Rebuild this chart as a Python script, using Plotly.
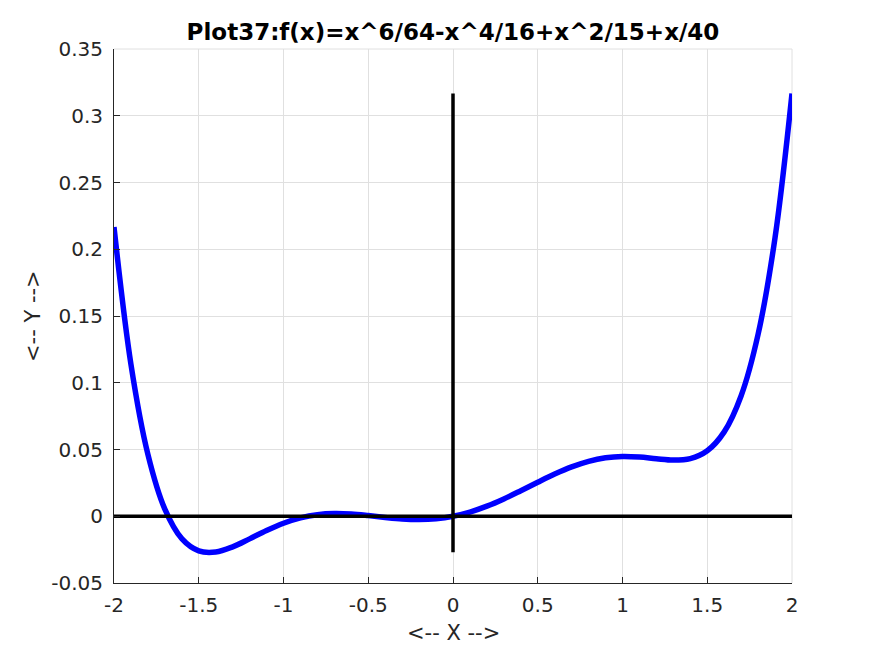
import plotly.graph_objects as go

x_vals = [-2.0, -1.9, -1.8, -1.7, -1.6, -1.5, -1.4, -1.3, -1.2, -1.1, -1.0,
          -0.9, -0.8, -0.7, -0.6, -0.5, -0.4, -0.3, -0.2, -0.1, 0.0,
          0.1, 0.2, 0.3, 0.4, 0.5, 0.6, 0.7, 0.8, 0.9, 1.0,
          1.1, 1.2, 1.3, 1.4, 1.5, 1.6, 1.7, 1.8, 1.9, 2.0]
y_vals = [0.21667, 0.11375, 0.04634, 0.00531, -0.01679, -0.02593, -0.02678, -0.02292, -0.01694, -0.01066, -0.00521,
          -0.00121, 0.00117, 0.00200, 0.00163, 0.00050, -0.00087, -0.00200, -0.00243, -0.00184, 0.0,
          0.00316, 0.00757, 0.01300, 0.01913, 0.02550, 0.03163, 0.03700, 0.04117, 0.04379, 0.04479,
          0.04434, 0.04306, 0.04208, 0.04322, 0.04907, 0.06321, 0.09031, 0.13634, 0.20875, 0.31667]

# Reference axes lines drawn in the chart
xaxis_line_x = [-2.0, 2.0]
xaxis_line_y = [0.0, 0.0]
yaxis_line_x = [0.0, 0.0]
yaxis_line_y = [-0.0270, 0.31667]

x_ticks = [-2, -1.5, -1, -0.5, 0, 0.5, 1, 1.5, 2]
x_tick_labels = ["-2", "-1.5", "-1", "-0.5", "0", "0.5", "1", "1.5", "2"]
y_ticks = [-0.05, 0, 0.05, 0.1, 0.15, 0.2, 0.25, 0.3, 0.35]
y_tick_labels = ["-0.05", "0", "0.05", "0.1", "0.15", "0.2", "0.25", "0.3", "0.35"]

title_text = "Plot37:f(x)=x^6/64-x^4/16+x^2/15+x/40"
x_label = "&lt;-- X --&gt;"
y_label = "&lt;-- Y --&gt;"

fig = go.Figure()
fig.add_trace(go.Scatter(x=x_vals, y=y_vals, mode="lines",
                         line=dict(color="#0000ff", width=5.5, shape="spline"),
                         showlegend=False, hoverinfo="skip"))
fig.add_trace(go.Scatter(x=xaxis_line_x, y=xaxis_line_y, mode="lines",
                         line=dict(color="black", width=3.5), showlegend=False))
fig.add_trace(go.Scatter(x=yaxis_line_x, y=yaxis_line_y, mode="lines",
                         line=dict(color="black", width=3.5), showlegend=False))

font_family = "DejaVu Sans"
W, H = 875, 656
L, R, T, B = 106, 91, 41, 81
plot_w = W - L - R
plot_h = H - T - B

fig.update_layout(
    width=W, height=H,
    margin=dict(l=L, r=R, t=T, b=B),
    paper_bgcolor="white", plot_bgcolor="white",
    font=dict(family=font_family, size=20, color="#262626"),
    title=dict(text="<b>" + title_text + "</b>", x=(L + plot_w / 2) / W, xanchor="center",
               y=1 - 24 / H, yanchor="middle",
               font=dict(family=font_family, size=23, color="black")),
    xaxis=dict(range=[-2, 2], tickvals=x_ticks, ticktext=x_tick_labels,
               showgrid=True, gridcolor="#e0e0e0", gridwidth=1,
               zeroline=False, showline=True, linecolor="#262626", linewidth=1,
               ticks="inside", ticklen=6, tickcolor="#262626",
               ticklabelstandoff=4, automargin=False,
               tickfont=dict(family=font_family, size=20, color="#262626")),
    yaxis=dict(range=[-0.05, 0.35], tickvals=y_ticks, ticktext=y_tick_labels,
               showgrid=True, gridcolor="#e0e0e0", gridwidth=1,
               zeroline=False, showline=True, linecolor="#262626", linewidth=1,
               ticks="inside", ticklen=6, tickcolor="#262626",
               ticklabelstandoff=6, automargin=False,
               tickfont=dict(family=font_family, size=20, color="#262626")),
    annotations=[
        dict(text=x_label, xref="paper", yref="paper", x=0.5, y=-(50 / plot_h),
             xanchor="center", yanchor="middle", showarrow=False,
             font=dict(family=font_family, size=21, color="#262626")),
        dict(text=y_label, xref="paper", yref="paper", x=-(81 / plot_w), y=0.5,
             xanchor="center", yanchor="middle", showarrow=False, textangle=-90,
             font=dict(family=font_family, size=21, color="#262626")),
    ],
)
# top/right grid boundary (light box lines as in reference)
fig.add_shape(type="line", xref="paper", yref="paper", x0=0, x1=1, y0=1, y1=1,
              line=dict(color="#e0e0e0", width=1), layer="below")
fig.add_shape(type="line", xref="paper", yref="paper", x0=1, x1=1, y0=0, y1=1,
              line=dict(color="#e0e0e0", width=1), layer="below")

fig.write_html("out.html")
